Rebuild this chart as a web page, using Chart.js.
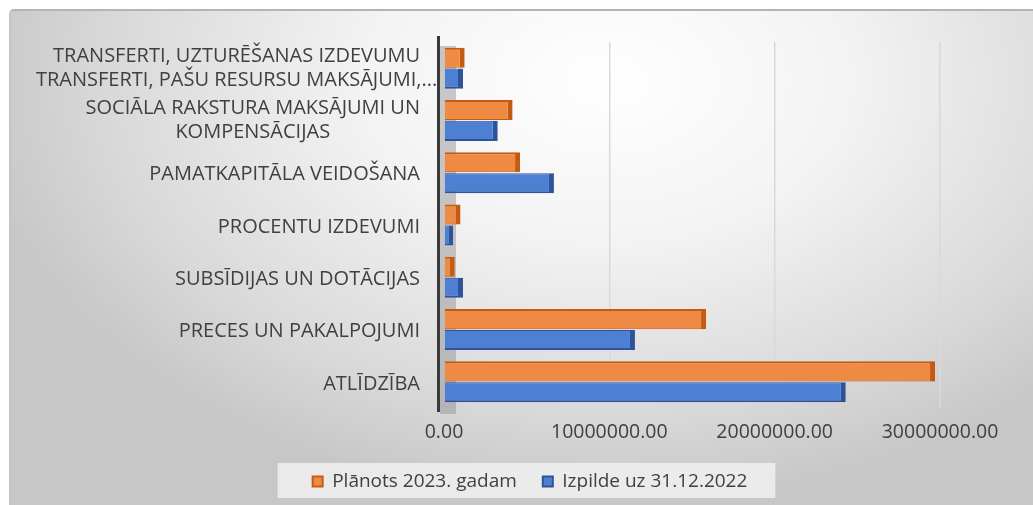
<!DOCTYPE html>
<html>
<head>
<meta charset="utf-8">
<script src="https://cdn.jsdelivr.net/npm/chart.js@4.4.1/dist/chart.umd.min.js"></script>
<style>
  body { margin: 0; background: #fff; }
  #wrap { position: relative; width: 1033px; height: 505px; overflow: hidden; background: #fff; }
  #panel {
    position: absolute; left: 9px; top: 9px; right: -4px; bottom: -4px;
    border-top: 2px solid #b4b4b4; border-left: 2px solid #c4c4c4; border-top-left-radius: 5px;
    background: radial-gradient(ellipse 62% 85% at 58% 14%, #ffffff 0%, #f3f3f3 38%, #d9d9d9 78%, #c7c7c7 100%);
  }
  #box { position: absolute; left: 0; top: 0; width: 1033px; height: 505px; }
</style>
</head>
<body>
<div id="wrap">
  <div id="panel"></div>
  <div id="box"><canvas id="chart"></canvas></div>
</div>
<script>
// categories, top to bottom
const categories = [
    ['TRANSFERTI, UZTURĒŠANAS IZDEVUMU', 'TRANSFERTI, PAŠU RESURSU MAKSĀJUMI,...'],
    ['SOCIĀLA RAKSTURA MAKSĀJUMI UN', 'KOMPENSĀCIJAS'],
    'PAMATKAPITĀLA VEIDOŠANA',
    'PROCENTU IZDEVUMI',
    'SUBSĪDIJAS UN DOTĀCIJAS',
    'PRECES UN PAKALPOJUMI',
    'ATLĪDZĪBA'
];

const seriesNames = ['Plānots 2023. gadam', 'Izpilde uz 31.12.2022'];

// values (EUR)
const planned2023 = [1250000, 4150000, 4600000, 1000000, 650000, 15850000, 29700000];
const actual2022 = [1150000, 3250000, 6650000, 550000, 1150000, 11550000, 24300000];

const xTicks = [0, 10000000, 20000000, 30000000];

const FONT = '"Open Sans", "Liberation Sans", sans-serif';
const TEXT = '#404040';

// category labels: block right aligned, lines centered inside the block
const yLabelPlugin = {
    id: 'yLabels',
    afterDraw(chart) {
        const y = chart.scales.y;
        const ctx = chart.ctx;
        const right = chart.chartArea.left - 24;
        ctx.save();
        ctx.font = '20px ' + FONT;
        ctx.fillStyle = TEXT;
        ctx.textAlign = 'center';
        ctx.textBaseline = 'middle';
        categories.forEach((lab, i) => {
            const lines = Array.isArray(lab) ? lab : [lab];
            const w = Math.max(...lines.map(l => ctx.measureText(l).width));
            const cx = Math.max(right - w / 2, 36 + w / 2);
            const cy = y.getPixelForTick(i) + (lines.length > 1 ? 0 : 2);
            lines.forEach((l, j) => {
                ctx.fillText(l, cx, cy + (j - (lines.length - 1) / 2) * 24.5);
            });
        });
        ctx.restore();
    }
};

// side wall + dark axis line, like the 3D excel chart
const wallPlugin = {
    id: 'wall',
    beforeDatasetsDraw(chart) {
        const { ctx, chartArea } = chart;
        const x0 = chart.scales.x.getPixelForValue(0);
        ctx.save();
        ctx.fillStyle = 'rgba(140,140,140,0.45)';
        ctx.fillRect(x0 - 4, chartArea.top + 4, 16, chartArea.bottom - chartArea.top + 2);
        ctx.fillStyle = '#3a3a3a';
        ctx.fillRect(x0 - 7, chartArea.top - 6, 3, chartArea.bottom - chartArea.top + 10);
        ctx.restore();
    }
};

// light box behind the legend
const legendBgPlugin = {
    id: 'legendBg',
    beforeDraw(chart) {
        const boxes = chart.legend && chart.legend.legendHitBoxes;
        if (!boxes || !boxes.length) return;
        const left = Math.min(...boxes.map(b => b.left)) - 35;
        const right = Math.max(...boxes.map(b => b.left + b.width)) + 28;
        const top = boxes[0].top - 9;
        const ctx = chart.ctx;
        ctx.save();
        ctx.fillStyle = 'rgba(242,242,242,0.8)';
        ctx.fillRect(left, top, right - left, boxes[0].height + 16);
        ctx.restore();
    }
};

new Chart(document.getElementById('chart'), {
    type: 'bar',
    data: {
        labels: categories,
        datasets: [{
            label: seriesNames[0],
            data: planned2023,
            backgroundColor: '#ef8a45',
            borderColor: '#c55a11',
            borderWidth: { top: 2, right: 5, bottom: 1, left: 0 },
            borderSkipped: 'start'
        }, {
            label: seriesNames[1],
            data: actual2022,
            backgroundColor: '#4d7fd3',
            borderColor: '#2f539a',
            borderWidth: { top: 1, right: 5, bottom: 2, left: 0 },
            borderSkipped: 'start'
        }]
    },
    options: {
        indexAxis: 'y',
        responsive: true,
        maintainAspectRatio: false,
        animation: false,
        categoryPercentage: 0.8,
        barPercentage: 0.96,
        layout: { padding: { left: 120, right: 93, top: 42, bottom: 4 } },
        scales: {
            x: {
                min: 0,
                max: 30000000,
                afterBuildTicks: scale => { scale.ticks = xTicks.map(v => ({ value: v })); },
                afterFit: scale => { scale.height = 38; },
                grid: {
                    drawTicks: false,
                    color: ctx => ctx.tick && ctx.tick.value === 0 ? 'rgba(0,0,0,0)' : '#d9d9d9',
                    lineWidth: 1.5
                },
                border: { display: false },
                ticks: {
                    padding: 13,
                    color: TEXT,
                    font: { family: FONT, size: 19.5 },
                    callback: v => Number(v).toFixed(2)
                }
            },
            y: {
                afterFit: scale => { scale.width = 324; },
                grid: { display: false },
                border: { display: false },
                ticks: { display: false }
            }
        },
        plugins: {
            legend: {
                position: 'bottom',
                labels: {
                    color: TEXT,
                    boxWidth: 10,
                    boxHeight: 10,
                    padding: 26,
                    font: { family: FONT, size: 19 }
                }
            },
            tooltip: { enabled: false }
        }
    },
    plugins: [legendBgPlugin, wallPlugin, yLabelPlugin]
});
</script>
</body>
</html>
